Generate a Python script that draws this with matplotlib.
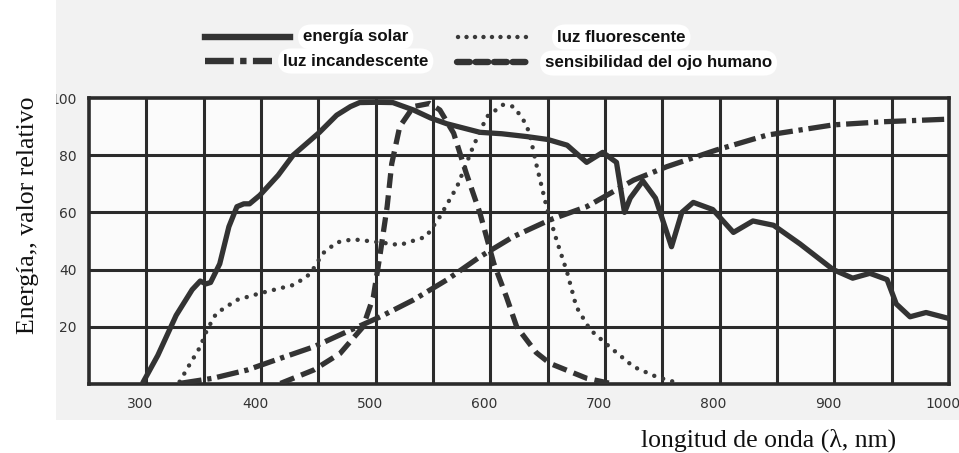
import matplotlib
matplotlib.use("Agg")
from matplotlib import pyplot as plt
from matplotlib.lines import Line2D
from matplotlib.patches import Rectangle
from matplotlib.transforms import ScaledTranslation

# data
solar_x = [297, 310, 326, 340, 347, 352, 356, 364, 372, 379, 385, 390, 399,
           415, 428, 451, 466, 478, 486, 500, 515, 533, 548, 562, 591, 610,
           632, 650, 667, 684, 698, 710, 717, 722, 733, 744, 758, 767, 777,
           794, 812, 829, 847, 870, 899, 916, 931, 946, 954, 966, 980, 999]
solar_y = [0.5, 10, 24, 33, 36, 35, 35.5, 42, 55, 62, 63, 63, 66,
           73, 80, 88, 94, 97, 98.4, 98.5, 98.4, 95.8, 93, 91, 88, 87.5,
           86.5, 85.5, 83.5, 77.5, 81, 77.5, 60, 65, 71, 65, 48, 60, 63.5,
           61, 53, 57, 55.5, 49, 40, 37, 38.7, 36.5, 28, 23.5, 25, 23]

fluor_x = [329, 338, 347, 353, 361, 379, 399, 428, 440, 446, 454, 466, 480,
           498, 521, 544, 556, 571, 585, 597, 611, 620, 628, 634, 640, 649,
           658, 667, 675, 687, 704, 725, 745, 765]
fluor_y = [0.8, 7, 13, 19, 24.7, 29.4, 31.7, 34.6, 37.5, 40.5, 45.7, 49.5,
           50.6, 49.8, 48.6, 51.5, 58.5, 69, 83, 93.5, 97.6, 97, 93, 88, 77,
           62, 50, 39, 27, 19, 13, 6, 2.5, 0.2]

incand_x = [329, 358, 388, 417, 446, 475, 504, 533, 562, 591, 608, 620, 652,
            684, 725, 754, 797, 841, 899, 943, 999]
incand_y = [0.2, 2, 4.9, 9, 13, 18.3, 23.5, 29.4, 36.4, 44.5, 48.6, 51.5,
            57.4, 62, 71.3, 76, 81.8, 87, 90.6, 91.7, 92.6]

eye_x = [417, 446, 469, 489, 498, 504, 510, 514, 521, 533, 547, 556, 568,
         579, 591, 603, 614, 623, 640, 652, 684, 707]
eye_y = [0.2, 4.9, 10.7, 20, 30.5, 45.7, 62, 77, 90, 97, 98.1, 95.8, 87.7,
         73.7, 59.7, 42.2, 30.5, 20, 11, 7.2, 2, 0]

x_ticks = [300, 400, 500, 600, 700, 800, 900, 1000]
y_ticks = [20, 40, 60, 80, 100]

labels = ["energía solar", "luz fluorescente",
          "luz incandescente", "sensibilidad del ojo humano"]

ink = "#2b2b2b"
W, H = 959, 453

fig = plt.figure(figsize=(W / 100, H / 100), dpi=100, facecolor="#f2f2f2")
# white strips where the scan was cut and relabelled
fig.patches.append(Rectangle((0, 0), 1, 1 - 420 / H, transform=fig.transFigure,
                             fc="white", ec="none", zorder=0))
fig.patches.append(Rectangle((0, 0), 56 / W, 1, transform=fig.transFigure,
                             fc="white", ec="none", zorder=0))

ax = fig.add_axes([89 / W, 1 - 384 / H, 860 / W, 286 / H])
ax.set_facecolor("#fbfbfb")
ax.set_xlim(250, 1000)
ax.set_ylim(0, 100)

for v in range(300, 1000, 50):
    ax.axvline(v, color=ink, lw=2.2, zorder=1)
for v in range(20, 100, 20):
    ax.axhline(v, color=ink, lw=2.2, zorder=1)
for s in ax.spines.values():
    s.set_color(ink)
    s.set_linewidth(2.6)

ax.plot(solar_x, solar_y, color="#333333", lw=3.8, solid_capstyle="round",
        solid_joinstyle="round", zorder=3)
ax.plot(fluor_x, fluor_y, color="#3a3a3a", lw=3.2,
        linestyle=(0, (0.01, 2.1)), dash_capstyle="round", zorder=3)
ax.plot(incand_x, incand_y, color="#333333", lw=3.8,
        linestyle=(0, (4.2, 1.1, 0.8, 1.1)), zorder=3)
ax.plot(eye_x, eye_y, color="#333333", lw=3.8,
        linestyle=(0, (2.8, 1.4)), zorder=3)

ax.set_xticks(x_ticks)
ax.set_xticklabels([str(t) for t in x_ticks])
ax.set_yticks(y_ticks)
ax.set_yticklabels([str(t) for t in y_ticks])
ax.tick_params(length=0, colors="#333333", labelsize=10)
ax.tick_params(axis="x", pad=9)
ax.tick_params(axis="y", pad=9)
shift = ScaledTranslation(-6 / 100, 0, fig.dpi_scale_trans)
for lab in ax.get_xticklabels():
    lab.set_transform(lab.get_transform() + shift)

fig.text(28 / W, 1 - 215 / H, "Energía,, valor relativo", rotation=90,
         family="Liberation Serif", fontsize=18.5, color="#111111",
         ha="center", va="center")
fig.text(769 / W, 1 - 440 / H, "longitud de onda (λ, nm)",
         family="Liberation Serif", fontsize=18.5, color="#111111",
         ha="center", va="center")

# legend drawn by hand above the plot
box = dict(boxstyle="round,pad=0.3,rounding_size=0.8", fc="white", ec="none")
styles = [dict(color="#333333", lw=4.6),
          dict(color="#3a3a3a", lw=3.2, linestyle=(0, (0.01, 1.9)),
               dash_capstyle="round"),
          dict(color="#333333", lw=4.6, linestyle=(0, (4.5, 1.0, 1.0, 1.0))),
          dict(color="#333333", lw=4.6, linestyle=(0, (2.0, 0.9)),
               dash_capstyle="round")]
spans = [(205, 290, 37), (458, 532, 37), (205, 272, 61), (457, 528, 62)]
text_pos = [(303, 37), (557, 37), (283, 61), (545, 63)]
for (x0, x1, y), st in zip(spans, styles):
    fig.add_artist(Line2D([x0 / W, x1 / W], [1 - y / H, 1 - y / H],
                          transform=fig.transFigure, **st))
for (tx, ty), lab in zip(text_pos, labels):
    fig.text(tx / W, 1 - ty / H, lab, family="Liberation Sans",
             weight="bold", fontsize=12.2, color="#111111",
             ha="left", va="center", bbox=box)

fig.savefig("out.png", dpi=100, facecolor=fig.get_facecolor())
